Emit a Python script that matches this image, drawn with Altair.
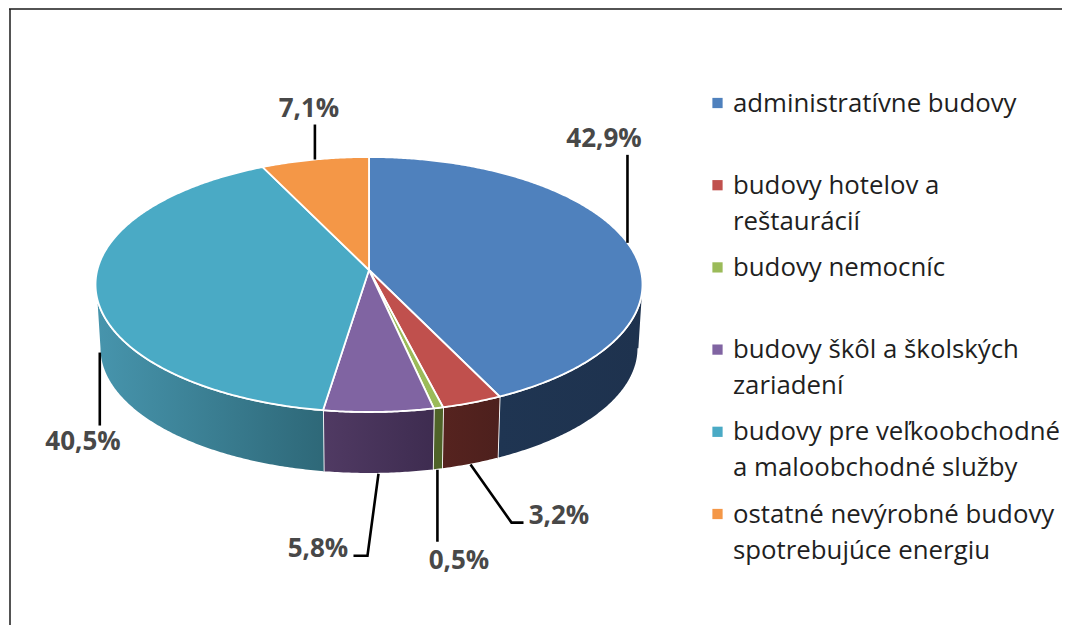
import numpy as np
import pandas as pd
import altair as alt

categories = ["administratívne budovy", "budovy hotelov a|reštaurácií", "budovy nemocníc",
              "budovy škôl a školských|zariadení", "budovy pre veľkoobchodné|a maloobchodné služby",
              "ostatné nevýrobné budovy|spotrebujúce energiu"]
values = [42.9, 3.2, 0.5, 5.8, 40.5, 7.1]
value_labels = ["42,9%", "3,2%", "0,5%", "5,8%", "40,5%", "7,1%"]
top_colors = ["#4f81bd", "#c0504d", "#9bbb59", "#8064a2", "#4aaac5", "#f49747"]
side_left = ["#1f3552", "#56231f", "#4f6328", "#503a63", "#4795ad", "#9a5a28"]
side_right = ["#1e324e", "#4d201d", "#4f6328", "#3e2c50", "#2e6878", "#9a5a28"]

W, H = 1054, 617
CX, CY, A, B, K = 369.0, 270.0, 271.7, 125.85, 0.1137
DEPTH, SHRINK = 64.0, 0.985
FRONT_FROM, FRONT_TO = 96.5, 263.5


def rim(deg, f=1.0, dy=0.0):
    t = np.radians(deg)
    u, v = np.sin(t), -np.cos(t)
    w = 1 - K * v
    return CX + f * A * u / w, CY + f * B * v / w + dy


cum = np.concatenate([[0], np.cumsum(values)]) * 3.6
xs = alt.X("x:Q", scale=alt.Scale(domain=[8, 8 + W], range=[0, W]), axis=None)
ys = alt.Y("y:Q", scale=alt.Scale(domain=[8 + H, 8], range=[H, 0]), axis=None)
layers = []


def poly(pts, **mark):
    df = pd.DataFrame(pts, columns=["x", "y"])
    df["i"] = range(len(df))
    return alt.Chart(df).mark_line(filled=True, **mark).encode(x=xs, y=ys, order="i:Q")


# side walls
for k in range(len(values)):
    a0, a1 = max(cum[k], FRONT_FROM), min(cum[k + 1], FRONT_TO)
    if a1 <= a0:
        continue
    ang = np.linspace(a0, a1, max(3, int(a1 - a0) * 2))
    pts = [rim(a) for a in ang] + [rim(a, SHRINK, DEPTH) for a in ang[::-1]]
    grad = alt.Gradient(gradient="linear", x1=0, x2=1, y1=0, y2=0,
                        stops=[alt.GradientStop(color=side_left[k], offset=0),
                               alt.GradientStop(color=side_right[k], offset=1)])
    layers.append(poly(pts, fill=grad, stroke="white", strokeWidth=1.8))

# top faces
for k in range(len(values)):
    ang = np.linspace(cum[k], cum[k + 1], max(3, int(cum[k + 1] - cum[k]) * 2))
    pts = [(CX, CY)] + [rim(a) for a in ang] + [(CX, CY)]
    layers.append(poly(pts, fill=top_colors[k], stroke="white", strokeWidth=1.8))

# leader lines: start on slice mid-angle, then fixed offsets to the label
mid = [(cum[k] + cum[k + 1]) / 2 for k in range(len(values))]
front = [False, True, True, True, True, False]
leader_steps = [[(0, -88)], [(41, 58), (53, 58)], [(0, 72)], [(-11, 82), (-25, 82)], [(0, 73)], [(0, -35)]]
for k in range(len(values)):
    x0, y0 = rim(mid[k], SHRINK, DEPTH) if front[k] else rim(mid[k])
    pts = [(x0, y0)] + [(x0 + dx, y0 + dy) for dx, dy in leader_steps[k]]
    df = pd.DataFrame(pts, columns=["x", "y"])
    df["i"] = range(len(df))
    layers.append(alt.Chart(df).mark_line(color="#000000", strokeWidth=2.6, strokeCap="butt")
                  .encode(x=xs, y=ys, order="i:Q"))

# value labels
label_x = [604, 559, 459, 318, 83, 309]
label_y = [147, 524, 569, 557, 450, 117]
lab = pd.DataFrame({"x": label_x, "y": label_y, "t": value_labels})
layers.append(alt.Chart(lab).mark_text(font="Open Sans", fontWeight="bold", fontSize=26, color="#484848",
                                       align="center", baseline="alphabetic")
              .encode(x=xs, y=ys, text="t:N"))

# legend
LEG_TOP, LEG_STEP = 103.0, 82.2
sw, tx = [], []
for k, c in enumerate(categories):
    yy = LEG_TOP + LEG_STEP * k
    sw.append({"x": 717.5, "y": yy, "c": c})
    for j, line in enumerate(c.split("|")):
        tx.append({"x": 733, "y": yy + 8.5 + 36 * j, "t": line})
layers.append(alt.Chart(pd.DataFrame(sw)).mark_point(shape="square", filled=True, size=105, opacity=1)
              .encode(x=xs, y=ys, color=alt.Color("c:N", scale=alt.Scale(domain=categories, range=top_colors), legend=None)))
layers.append(alt.Chart(pd.DataFrame(tx)).mark_text(font="Open Sans", fontSize=25.8, color="#1f1f1f",
                                                    align="left", baseline="alphabetic")
              .encode(x=xs, y=ys, text="t:N"))

# frame
frame_top = pd.DataFrame({"x": [9], "x2": [8 + W], "y": [9]})
frame_left = pd.DataFrame({"x": [10], "y": [9], "y2": [8 + H]})
layers.append(alt.Chart(frame_top).mark_rule(color="#1a1a1a", strokeWidth=1.5).encode(x=xs, x2="x2:Q", y=ys))
layers.append(alt.Chart(frame_left).mark_rule(color="#1a1a1a", strokeWidth=1.5).encode(x=xs, y=ys, y2="y2:Q"))

chart = alt.layer(*layers).properties(width=W, height=H, padding=0, autosize=alt.AutoSizeParams(type="none"),
                                      background="white").configure_view(stroke=None)
chart.save("out.html", embed_options={"renderer": "svg", "actions": False})
